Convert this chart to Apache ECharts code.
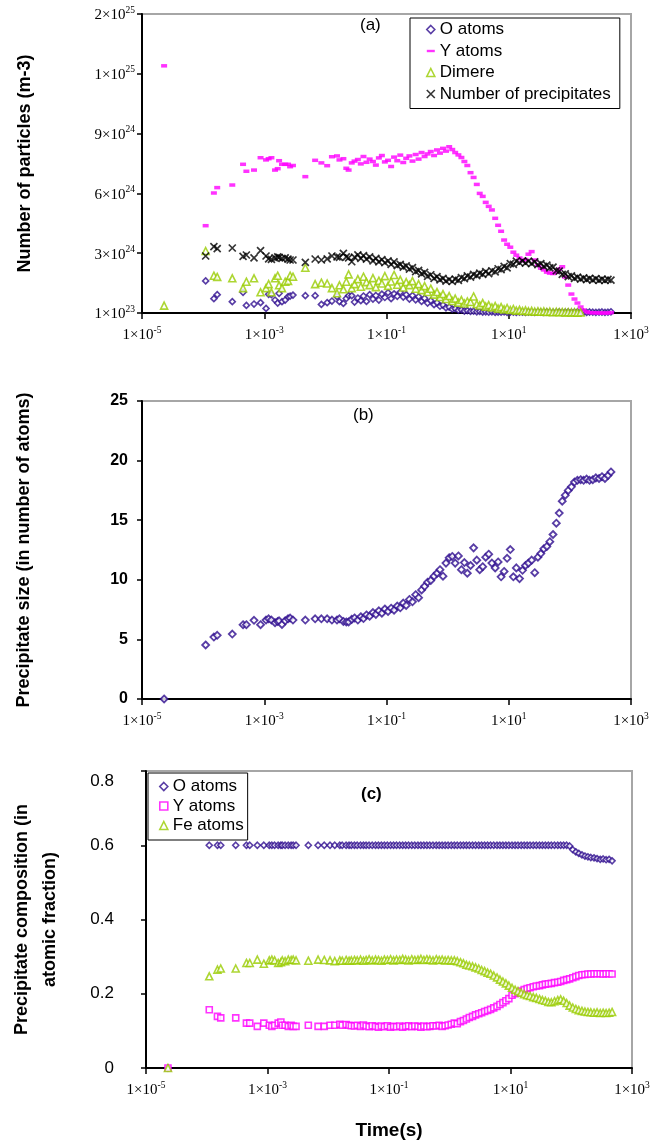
<!DOCTYPE html>
<html><head><meta charset="utf-8">
<script src="https://cdn.jsdelivr.net/npm/echarts@6/dist/echarts.min.js"></script>
<style>html,body{margin:0;padding:0;background:#fff}#c{width:666px;height:1143px}</style>
</head><body><div id="c"></div>
<script>
// time (s), shared by all panels
const T = [2.3e-5,1.1e-4,1.5e-4,1.7e-4,3.0e-4,4.5e-4,5.1e-4,6.8e-4,8.7e-4,1.07e-3,1.18e-3,1.31e-3,1.5e-3,1.66e-3,1.75e-3,1.95e-3,2.2e-3,2.45e-3,2.65e-3,2.95e-3,4.7e-3,6.8e-3,8.6e-3,1.07e-2,1.28e-2,1.55e-2,1.7e-2,1.97e-2,2.2e-2,2.4e-2,2.7e-2,
0.030,0.034,0.038,0.042,0.047,0.053,0.060,0.067,0.075,0.084,
0.094,0.106,0.119,0.133,0.15,0.168,0.188,0.21,0.237,0.266,
0.30,0.335,0.375,0.42,0.47,0.53,0.60,0.67,0.75,0.84,
0.94,1.06,1.19,1.33,1.5,1.68,1.88,2.1,2.37,2.66,
3.0,3.35,3.75,4.2,4.7,5.3,6.0,6.7,7.5,8.4,
9.4,10.6,11.9,13.3,15,16.8,18.8,21,23.7,26.6,
30,33.5,37.5,42,47,53,60,67,75,84,
94,106,119,133,150,168,188,210,237,266,
300,335,375,420,470];

// Panel (a): number of particles, in units of 1e24 m-3
const aO_e24 = [null,1.61,0.72,0.92,0.57,1.04,0.38,0.45,0.52,0.23,0.94,0.92,0.65,0.50,0.99,0.57,0.65,0.82,0.85,0.90,0.87,0.87,0.43,0.52,0.60,0.82,0.57,0.48,0.73,0.87,0.87,
0.55,0.75,0.62,0.85,0.58,0.92,0.70,0.88,0.65,0.95,
0.78,1.02,0.72,0.96,0.84,1.05,0.80,0.92,0.70,0.88,
0.66,0.82,0.58,0.74,0.50,0.62,0.42,0.52,0.34,0.40,
0.26,0.30,0.20,0.22,0.14,0.16,0.10,0.12,0.08,0.09,
0.06,0.08,0.05,0.06,0.04,0.06,0.03,0.05,0.04,0.06,
0.03,0.05,0.04,0.03,0.05,0.04,0.03,0.05,0.04,0.03,
0.05,0.04,0.03,0.05,0.04,0.03,0.04,0.05,0.03,0.04,
0.05,0.03,0.04,0.05,0.03,0.04,0.03,0.05,0.04,0.03,
0.04,0.05,0.03,0.04,0.06];
const aY_e24 = [12.4,4.38,6.02,6.29,6.42,7.46,7.11,7.17,7.79,7.68,7.74,7.79,7.17,7.24,7.64,7.46,7.46,7.46,7.34,7.40,6.84,7.66,7.53,7.39,7.84,7.88,7.68,7.74,7.26,7.17,7.53,
7.62,7.70,7.48,7.85,7.56,7.72,7.60,7.42,7.78,7.90,
7.58,7.66,7.35,7.82,7.64,7.92,7.55,7.76,7.88,7.62,
7.95,7.72,8.05,7.85,7.98,8.10,7.90,8.18,8.02,8.26,
8.12,8.34,8.20,8.05,7.93,7.80,7.60,7.40,7.04,6.80,
6.45,6.00,5.85,5.55,5.35,5.17,4.75,4.40,4.10,3.66,
3.45,3.30,3.05,2.90,2.76,2.62,2.68,2.95,3.08,2.66,
2.40,2.25,2.16,2.05,2.00,1.98,2.05,2.20,2.32,1.80,
1.40,0.95,0.70,0.50,0.30,0.15,0.06,0.02,0.01,0.01,
0.0,0.0,0.0,0.0,0.02];
const aDimere_e24 = [0.37,3.11,1.87,1.81,1.74,1.25,1.57,1.74,1.04,1.25,1.45,1.04,1.74,1.87,1.39,1.25,1.57,1.61,1.87,1.82,2.27,1.45,1.52,1.48,1.25,0.99,1.39,1.19,1.57,1.94,1.25,
1.45,1.70,1.32,1.82,1.55,1.40,1.75,1.30,1.62,1.48,
1.85,1.36,1.58,1.91,1.42,1.66,1.28,1.55,1.40,1.60,
1.22,1.45,1.15,1.35,1.05,1.22,0.92,1.05,0.80,0.95,
0.70,0.85,0.60,0.72,0.52,0.65,0.48,0.58,0.55,0.83,
0.45,0.38,0.50,0.32,0.40,0.28,0.35,0.22,0.30,0.18,
0.25,0.15,0.20,0.12,0.16,0.10,0.13,0.08,0.11,0.07,
0.09,0.06,0.08,0.05,0.07,0.04,0.06,0.04,0.05,0.03,
0.04,0.03,0.04,0.02,0.03,null,null,null,null,null,
null,null,null,null,null];
const aPrecip_e24 = [null,2.86,3.33,3.23,3.26,2.84,2.91,2.77,3.13,2.86,2.72,2.69,2.77,2.82,2.79,2.74,2.77,2.70,2.66,2.66,2.54,2.71,2.66,2.72,2.86,2.82,2.79,2.99,2.82,2.77,2.57,
2.80,2.92,2.74,2.88,2.70,2.82,2.62,2.74,2.56,2.68,
2.52,2.62,2.44,2.56,2.38,2.44,2.30,2.36,2.20,2.28,
2.08,2.14,1.96,2.04,1.84,1.92,1.74,1.82,1.66,1.74,
1.60,1.68,1.58,1.70,1.64,1.78,1.72,1.86,1.80,1.94,
1.88,2.00,1.94,2.08,1.98,2.12,2.06,2.22,2.18,2.34,
2.26,2.48,2.44,2.60,2.52,2.62,2.50,2.60,2.48,2.56,
2.42,2.48,2.34,2.40,2.26,2.30,2.12,2.10,1.94,1.96,
1.82,1.86,1.74,1.80,1.70,1.76,1.67,1.74,1.65,1.72,
1.64,1.70,1.63,1.69,1.65];

// Panel (b): precipitate size (atoms)
const bSize = [0,4.53,5.20,5.34,5.45,6.23,6.23,6.60,6.23,6.62,6.73,6.62,6.40,6.50,6.56,6.26,6.56,6.73,6.79,6.62,6.62,6.73,6.73,6.73,6.62,6.62,6.73,6.51,6.46,6.46,6.68,
6.80,6.62,6.90,6.75,7.05,6.95,7.25,7.10,7.40,7.20,
7.55,7.35,7.62,7.45,7.80,7.65,8.05,7.85,8.35,8.15,
8.75,8.50,9.15,9.45,9.80,9.95,10.30,10.55,10.85,10.30,
11.40,11.85,11.96,11.40,12.00,10.85,11.45,10.55,11.20,12.68,
11.65,10.85,11.10,11.90,12.15,11.40,11.00,11.50,10.25,10.70,
11.80,12.54,10.25,11.00,10.10,10.80,11.20,11.40,11.65,10.60,
11.90,12.20,12.60,12.80,13.20,13.80,14.75,15.60,16.60,17.10,
17.50,17.80,18.20,18.35,18.40,18.35,18.45,18.35,18.40,18.55,
18.50,18.65,18.50,18.75,19.05];

// Panel (c): precipitate composition (atomic fraction)
const cO = [0,0.6,0.6,0.6,0.6,0.6,0.6,0.6,0.6,0.6,0.6,0.6,0.6,0.6,0.6,0.6,0.6,0.6,0.6,0.6,0.6,0.6,0.6,0.6,0.6,0.6,0.6,0.6,0.6,0.6,0.6,
0.6,0.6,0.6,0.6,0.6,0.6,0.6,0.6,0.6,0.6,
0.6,0.6,0.6,0.6,0.6,0.6,0.6,0.6,0.6,0.6,
0.6,0.6,0.6,0.6,0.6,0.6,0.6,0.6,0.6,0.6,
0.6,0.6,0.6,0.6,0.6,0.6,0.6,0.6,0.6,0.6,
0.6,0.6,0.6,0.6,0.6,0.6,0.6,0.6,0.6,0.6,
0.6,0.6,0.6,0.6,0.6,0.6,0.6,0.6,0.6,0.6,
0.6,0.6,0.6,0.6,0.6,0.6,0.6,0.6,0.6,0.6,
0.598,0.588,0.582,0.578,0.574,0.571,0.569,0.567,0.566,0.564,
0.562,0.563,0.561,0.562,0.558];
const cY = [0,0.157,0.139,0.135,0.135,0.121,0.121,0.112,0.121,0.115,0.112,0.115,0.121,0.124,0.115,0.115,0.112,0.115,0.112,0.112,0.115,0.112,0.112,0.115,0.115,0.118,0.115,0.117,0.115,0.114,0.113,
0.115,0.112,0.116,0.113,0.111,0.114,0.112,0.110,0.113,0.111,
0.114,0.110,0.112,0.111,0.113,0.110,0.112,0.114,0.111,0.113,
0.112,0.110,0.113,0.111,0.112,0.114,0.113,0.115,0.112,0.114,
0.116,0.118,0.121,0.119,0.125,0.128,0.132,0.136,0.139,0.143,
0.146,0.149,0.152,0.155,0.158,0.162,0.166,0.171,0.176,0.181,
0.187,0.196,0.200,0.203,0.207,0.211,0.214,0.216,0.219,0.221,
0.222,0.224,0.226,0.227,0.228,0.230,0.231,0.233,0.236,0.238,
0.240,0.243,0.246,0.249,0.251,0.252,0.253,0.253,0.254,0.254,
0.254,0.253,0.254,0.254,0.253];
const cFe = [0,0.247,0.265,0.268,0.268,0.283,0.283,0.292,0.281,0.290,0.292,0.290,0.283,0.285,0.290,0.288,0.292,0.291,0.292,0.290,0.289,0.292,0.291,0.290,0.288,0.290,0.289,0.291,0.289,0.290,0.291,
0.290,0.292,0.289,0.291,0.293,0.290,0.292,0.291,0.289,0.292,
0.291,0.293,0.290,0.292,0.291,0.294,0.292,0.290,0.293,0.291,
0.292,0.294,0.291,0.293,0.292,0.290,0.293,0.291,0.292,0.290,
0.291,0.290,0.290,0.288,0.285,0.282,0.278,0.276,0.274,0.271,
0.268,0.264,0.261,0.257,0.254,0.249,0.244,0.238,0.233,0.228,
0.222,0.216,0.211,0.207,0.203,0.199,0.196,0.194,0.191,0.189,
0.186,0.183,0.181,0.178,0.177,0.180,0.183,0.185,0.181,0.175,
0.168,0.163,0.159,0.156,0.154,0.152,0.151,0.150,0.149,0.150,
0.148,0.149,0.148,0.149,0.151];

// tick labels
const xTickValues = [1e-5,1e-3,1e-1,1e1,1e3];
const xTickExps = ['-5','-3','-1','1','3'];
const aTickMant = ['1','3','6','9','1','2'];
const aTickExps = ['23','24','24','24','25','25'];

const SANS = "'Liberation Sans', Arial, sans-serif";
const SERIF = "'Liberation Serif', 'Times New Roman', serif";
const INDIGO = '#2e0c8e', MAGENTA = '#ff00ff', GREEN = '#99cc00';

const pts = arr => T.map((t,i)=>[t,arr[i]]).filter(p=>p[1]!==null && p[1]!==undefined);

const richSerif = {
  b:{fontFamily:SERIF,fontSize:15,color:'#000',lineHeight:18,verticalAlign:'bottom'},
  s:{fontFamily:SERIF,fontSize:9.5,color:'#000',lineHeight:9,verticalAlign:'top'}
};
const xLabelFmt = v => {
  const i = xTickValues.findIndex(t => Math.abs(Math.log10(t)-Math.log10(v))<1e-6);
  return i<0 ? '' : '{b|1×10}{s|'+xTickExps[i]+'}';
};
function xAxisCfg(gi, extra){
  return Object.assign({
    type:'log', logBase:10, min:1e-5, max:1e3, gridIndex:gi,
    axisLine:{show:true,onZero:false,lineStyle:{color:'#000',width:2}},
    axisTick:{show:true,inside:false,length:6,customValues:xTickValues,lineStyle:{color:'#000',width:1.5}},
    axisLabel:{customValues:xTickValues,formatter:xLabelFmt,rich:richSerif,margin:12},
    splitLine:{show:false}, minorTick:{show:false}, minorSplitLine:{show:false}
  }, extra||{});
}
const yBase = {
  axisLine:{show:true,onZero:false,lineStyle:{color:'#000',width:2}},
  axisTick:{show:true,inside:false,length:5,lineStyle:{color:'#000',width:1.5}},
  splitLine:{show:false}
};
const nameStyle = {fontFamily:SANS,fontWeight:'bold',fontSize:18,color:'#000'};
const gridStyle = {show:true,borderColor:'#a6a6a6',borderWidth:2,backgroundColor:'transparent'};

const hollow = (c,w) => ({color:'#fff',borderColor:c,borderWidth:w});
const XPATH = 'path://M0,0L8,8M8,0L0,8';
const DASH = 'path://M0,0M8,8M0,2.8L8,2.8L8,5.2L0,5.2Z';

const option = {
  animation:false,
  backgroundColor:'#fff',
  title:[
    {text:'(a)',left:355,top:12,textStyle:{fontFamily:SANS,fontSize:17,fontWeight:'normal',color:'#000'}},
    {text:'(b)',left:348,top:402,textStyle:{fontFamily:SANS,fontSize:17,fontWeight:'normal',color:'#000'}},
    {text:'(c)',left:356,top:781,textStyle:{fontFamily:SANS,fontSize:17,fontWeight:'bold',color:'#000'}}
  ],
  grid:[
    Object.assign({left:142,top:14,width:489,height:299},gridStyle),
    Object.assign({left:142,top:401,width:489,height:298},gridStyle),
    Object.assign({left:144,top:771,width:488,height:297},gridStyle)
  ],
  legend:[
    {left:410,top:18,orient:'vertical',padding:[3,9,6,16],itemGap:4.5,itemWidth:8,itemHeight:8,
     borderColor:'#000',borderWidth:1,backgroundColor:'#fff',selectedMode:false,
     textStyle:{fontFamily:SANS,fontSize:17,color:'#000'},
     data:[
      {name:'O atoms',icon:'diamond',itemStyle:hollow(INDIGO,1.6)},
      {name:'Y atoms',icon:DASH,itemStyle:{color:MAGENTA,borderWidth:0}},
      {name:'Dimere',icon:'triangle',itemStyle:hollow(GREEN,1.6)},
      {name:'Number of precipitates',icon:XPATH,itemStyle:{color:'transparent',borderColor:'#000',borderWidth:1.6}}
     ]},
    {left:148,top:773,orient:'vertical',padding:[5,4,6,11],itemGap:2.5,itemWidth:8,itemHeight:8,
     borderColor:'#000',borderWidth:1,backgroundColor:'#fff',selectedMode:false,
     textStyle:{fontFamily:SANS,fontSize:17,color:'#000'},
     data:[
      {name:'O atoms',icon:'diamond',itemStyle:hollow(INDIGO,1.6)},
      {name:'Y atoms',icon:'rect',itemStyle:hollow(MAGENTA,1.6)},
      {name:'Fe atoms',icon:'triangle',itemStyle:hollow(GREEN,1.6)}
     ]}
  ],
  xAxis:[
    xAxisCfg(0),
    xAxisCfg(1),
    xAxisCfg(2,{name:'Time(s)',nameLocation:'middle',nameGap:53,
      nameTextStyle:{fontFamily:SANS,fontWeight:'bold',fontSize:19,color:'#000'}})
  ],
  yAxis:[
    Object.assign({},yBase,{type:'value',gridIndex:0,min:0,max:15,interval:3,
      name:'Number of particles (m-3)',nameLocation:'middle',nameRotate:90,nameGap:108,nameTextStyle:nameStyle,
      axisLabel:{margin:7,rich:richSerif,formatter:v=>{const i=Math.round(v/3);return '{b|'+aTickMant[i]+'×10}{s|'+aTickExps[i]+'}';}}}),
    Object.assign({},yBase,{type:'value',gridIndex:1,min:0,max:25,interval:5,
      name:'Precipitate size (in number of atoms)',nameLocation:'middle',nameRotate:90,nameGap:109,nameTextStyle:nameStyle,
      axisLabel:{margin:14,fontFamily:SANS,fontWeight:'bold',fontSize:16,color:'#000'}}),
    Object.assign({},yBase,{type:'value',gridIndex:2,min:0,max:0.8,interval:0.2,
      name:'Precipitate composition (in\natomic fraction)',nameLocation:'middle',nameRotate:90,nameGap:82,
      nameTextStyle:Object.assign({lineHeight:28},nameStyle),
      axisLabel:{margin:32,fontFamily:SANS,fontSize:17,color:'#000',
        rich:{lo:{fontFamily:SANS,fontSize:17,color:'#000',padding:[20,0,0,0]}},
        formatter:v=>Math.abs(v-0.8)<1e-9?'{lo|0.8}':String(Math.round(v*10)/10)}})
  ],
  series:[
    {name:'O atoms',type:'scatter',xAxisIndex:0,yAxisIndex:0,data:pts(aO_e24),symbol:'diamond',symbolSize:6,itemStyle:hollow(INDIGO,1.6),clip:false,silent:true},
    {name:'Y atoms',type:'scatter',xAxisIndex:0,yAxisIndex:0,data:pts(aY_e24),symbol:'rect',symbolSize:[6,3.5],itemStyle:{color:MAGENTA},clip:false,silent:true},
    {name:'Dimere',type:'scatter',xAxisIndex:0,yAxisIndex:0,data:pts(aDimere_e24),symbol:'triangle',symbolSize:7,itemStyle:hollow(GREEN,1.6),clip:false,silent:true},
    {name:'Number of precipitates',type:'scatter',xAxisIndex:0,yAxisIndex:0,data:pts(aPrecip_e24),symbol:XPATH,symbolSize:7,itemStyle:{color:'transparent',borderColor:'#000',borderWidth:1.7},clip:false,silent:true},
    {name:'Precipitate size',type:'scatter',xAxisIndex:1,yAxisIndex:1,data:pts(bSize),symbol:'diamond',symbolSize:7,itemStyle:hollow(INDIGO,1.8),clip:false,silent:true},
    {name:'O atoms',type:'scatter',xAxisIndex:2,yAxisIndex:2,data:pts(cO),symbol:'diamond',symbolSize:6,itemStyle:hollow(INDIGO,1.6),clip:false,silent:true},
    {name:'Y atoms',type:'scatter',xAxisIndex:2,yAxisIndex:2,data:pts(cY),symbol:'rect',symbolSize:6,itemStyle:hollow(MAGENTA,1.6),clip:false,silent:true},
    {name:'Fe atoms',type:'scatter',xAxisIndex:2,yAxisIndex:2,data:pts(cFe),symbol:'triangle',symbolSize:7,itemStyle:hollow(GREEN,1.6),clip:false,silent:true}
  ]
};
const chart = echarts.init(document.getElementById('c'),null,{renderer:'canvas'});
chart.setOption(option);
</script>
</body></html>
